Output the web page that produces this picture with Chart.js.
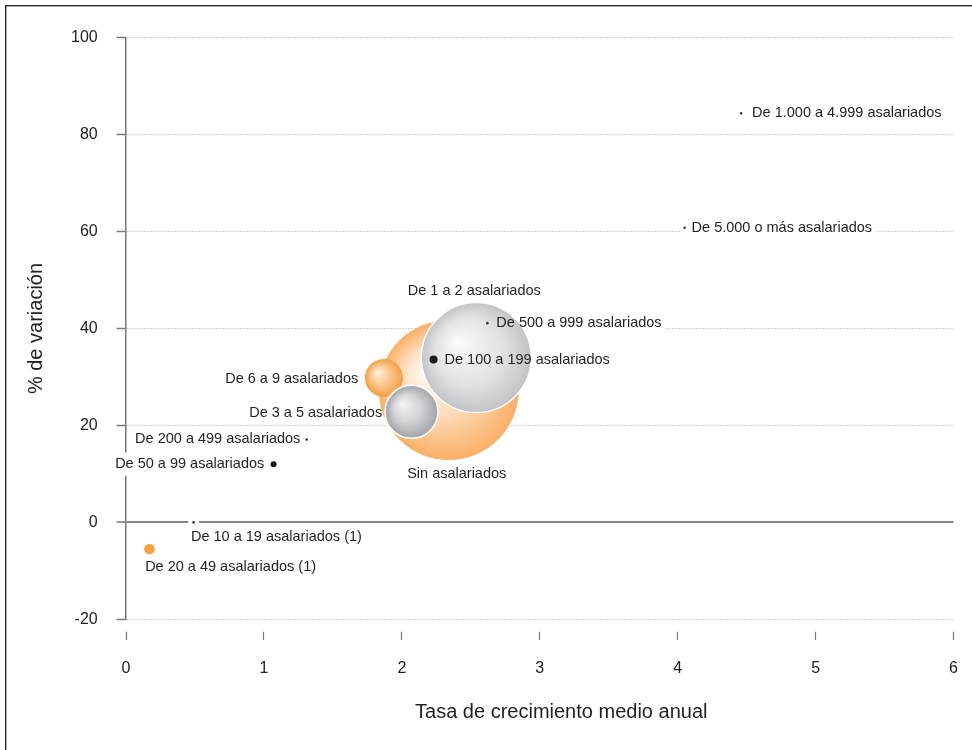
<!DOCTYPE html>
<html>
<head>
<meta charset="utf-8">
<script src="https://cdn.jsdelivr.net/npm/chart.js@4.4.1/dist/chart.umd.min.js"></script>
<style>
  html, body { margin: 0; padding: 0; background: #fff; }
  canvas { display: block; }
</style>
</head>
<body>
<canvas id="chart" width="972" height="750"></canvas>
<script>
// datos
const categories = [
  'Sin asalariados',
  'De 1 a 2 asalariados',
  'De 6 a 9 asalariados',
  'De 3 a 5 asalariados',
  'De 100 a 199 asalariados',
  'De 500 a 999 asalariados',
  'De 1.000 a 4.999 asalariados',
  'De 5.000 o más asalariados',
  'De 200 a 499 asalariados',
  'De 50 a 99 asalariados',
  'De 10 a 19 asalariados (1)',
  'De 20 a 49 asalariados (1)'
];
const growthRate = [2.34, 2.54, 1.87, 2.07, 2.23, 2.62, 4.46, 4.05, 1.31, 1.07, 0.49, 0.17];
const variation  = [27.3, 34.0, 29.8, 22.8, 33.6, 41.1, 84.4, 60.8, 17.1, 12.0, 0, -5.5];
const bubbleSize = [70, 55, 19, 26.5, 4, 1.3, 1.3, 1.3, 1.3, 3, 1.3, 5.3];
const xTicks = [0, 1, 2, 3, 4, 5, 6];
const yTicks = [-20, 0, 20, 40, 60, 80, 100];
const xTitle = 'Tasa de crecimiento medio anual';
const yTitle = '% de variación';

// estilos
const tones = ['orange', 'grey', 'orangeSmall', 'greyMid', 'dot', 'tiny', 'tiny', 'tiny', 'tiny', 'dot', 'tiny', 'orangeDot'];
const palettes = {
  orange:      [[0, '#fffbf6'], [0.5, '#fddcb9'], [1, '#f9b066']],
  orangeSmall: [[0, '#fff2e2'], [0.5, '#fbc88e'], [1, '#f49f42']],
  grey:        [[0, '#fafafa'], [0.6, '#e2e3e4'], [1, '#c2c3c6']],
  greyMid:     [[0, '#f5f5f6'], [0.5, '#d4d5d7'], [1, '#a2a3a7']],
  dot:         [[0, '#1b1b1b']],
  tiny:        [[0, '#333333']],
  orangeDot:   [[0, '#f7a23a']]
};
// [alineación, dx, dy] respecto al centro del punto
const labelPlace = [
  ['center', 8, 84],
  ['center', -2, -66.5],
  ['right', -25.7, 1],
  ['right', -29.3, 1],
  ['left', 11, 0.5],
  ['left', 9, 0],
  ['left', 11, 0],
  ['left', 7, 0],
  ['right', -6.3, 0],
  ['right', -9.3, 0],
  ['left', -2.6, 14.3],
  ['left', -4.3, 18.4]
];
const FONT = "'Liberation Sans', Arial, Helvetica, sans-serif";
const LABEL_FONT = '14.5px ' + FONT;
const TEXT = '#231f20';

// sin margen extra por el radio de las burbujas
Chart.BubbleController.prototype.getMaxOverflow = function () { return 0; };

function pointPx(chart, i) {
  return {
    x: chart.scales.x.getPixelForValue(growthRate[i]),
    y: chart.scales.y.getPixelForValue(variation[i])
  };
}

function fillFor(c) {
  const i = c.dataIndex;
  const stops = palettes[tones[i]];
  if (stops.length === 1) return stops[0][1];
  const chart = c.chart;
  if (!chart.scales || !chart.scales.x) return stops[stops.length - 1][1];
  const {x, y} = pointPx(chart, i);
  const r = bubbleSize[i];
  if (!isFinite(x) || !isFinite(y)) return stops[stops.length - 1][1];
  const g = chart.ctx.createRadialGradient(x - r * 0.35, y - r * 0.3, 0, x, y, r);
  stops.forEach(([o, col]) => g.addColorStop(o, col));
  return g;
}

const labelsPlugin = {
  id: 'pointLabels',
  beforeDraw(chart) {
    const ctx = chart.ctx;
    ctx.save();
    ctx.fillStyle = '#fff';
    ctx.fillRect(0, 0, chart.width, chart.height);
    // marco
    ctx.fillStyle = '#2a2a2a';
    ctx.fillRect(5, 5, 1.4, chart.height - 5);
    ctx.fillRect(5, 5, chart.width - 5, 1.4);
    ctx.restore();
  },
  beforeDatasetsDraw(chart) {
    const ctx = chart.ctx;
    ctx.save();
    ctx.font = LABEL_FONT;
    ctx.fillStyle = '#fff';
    categories.forEach((name, i) => {
      const {x, y} = pointPx(chart, i);
      const [align, dx, dy] = labelPlace[i];
      const w = ctx.measureText(name).width;
      const left = align === 'left' ? x + dx : align === 'right' ? x + dx - w : x + dx - w / 2;
      ctx.fillRect(left - 3, y + dy - 11.5, w + 6, 23);
      if (bubbleSize[i] < 2) {
        ctx.beginPath();
        ctx.arc(x, y, 5.5, 0, Math.PI * 2);
        ctx.fill();
      }
    });
    ctx.restore();
  },
  afterDatasetsDraw(chart) {
    const ctx = chart.ctx;
    ctx.save();
    ctx.font = LABEL_FONT;
    ctx.fillStyle = TEXT;
    ctx.textBaseline = 'middle';
    categories.forEach((name, i) => {
      const {x, y} = pointPx(chart, i);
      const [align, dx, dy] = labelPlace[i];
      ctx.textAlign = align;
      ctx.fillText(name, x + dx, y + dy);
    });
    // título eje x (desplazado a la derecha como en el original)
    const area = chart.chartArea;
    ctx.font = '20px ' + FONT;
    ctx.textAlign = 'center';
    ctx.fillText(xTitle, (area.left + area.right) / 2 + 21.5, 712);
    ctx.restore();
  }
};

new Chart(document.getElementById('chart'), {
  type: 'bubble',
  data: {
    datasets: [{
      label: 'Tamaño',
      data: categories.map((c, i) => ({x: growthRate[i], y: variation[i], r: bubbleSize[i]})),
      backgroundColor: fillFor,
      borderColor: '#ffffff',
      borderWidth: c => (tones[c.dataIndex] === 'grey' || tones[c.dataIndex] === 'greyMid') ? 1.5 : 0,
      hoverRadius: 0,
      clip: false
    }]
  },
  options: {
    responsive: false,
    animation: false,
    events: [],
    layout: { padding: { left: 0, right: 18.5, top: 37.7, bottom: 0 } },
    plugins: {
      legend: { display: false },
      tooltip: { enabled: false }
    },
    scales: {
      x: {
        type: 'linear',
        min: 0,
        max: 6,
        afterBuildTicks: s => { s.ticks = xTicks.map(v => ({value: v})); },
        afterFit: s => {
          s.height = 750 - 619.3;
          s.paddingLeft = 0;
          s.paddingRight = 0;
        },
        border: { display: false },
        grid: {
          display: true,
          drawOnChartArea: false,
          drawTicks: true,
          tickLength: 21,
          tickColor: '#777',
          tickWidth: 1.2,
          tickBorderDash: [0, 12.7, 8.3, 100]
        },
        ticks: {
          padding: 19,
          color: '#222',
          font: { size: 16, family: FONT },
          maxRotation: 0
        }
      },
      y: {
        type: 'linear',
        min: -20,
        max: 100,
        afterBuildTicks: s => { s.ticks = yTicks.map(v => ({value: v})); },
        afterFit: s => { s.width = 126; },
        border: {
          display: true,
          color: '#7a7a7a',
          width: 1.5,
          dash: c => (c.tick && c.tick.value === 0) ? [] : [1, 2]
        },
        grid: {
          color: c => (c.tick && c.tick.value === 0) ? '#858585' : '#a8a8a8',
          lineWidth: c => (c.tick && c.tick.value === 0) ? 2 : 1,
          drawTicks: true,
          tickLength: 9.3,
          tickColor: '#7a7a7a',
          tickWidth: 1.5,
          tickBorderDash: []
        },
        ticks: {
          padding: 19,
          color: '#222',
          font: { size: 16, family: FONT }
        },
        title: {
          display: true,
          text: yTitle,
          color: '#222',
          font: { size: 20, family: FONT },
          padding: { top: 24.5, bottom: 0 }
        }
      }
    }
  },
  plugins: [labelsPlugin]
});
</script>
</body>
</html>
